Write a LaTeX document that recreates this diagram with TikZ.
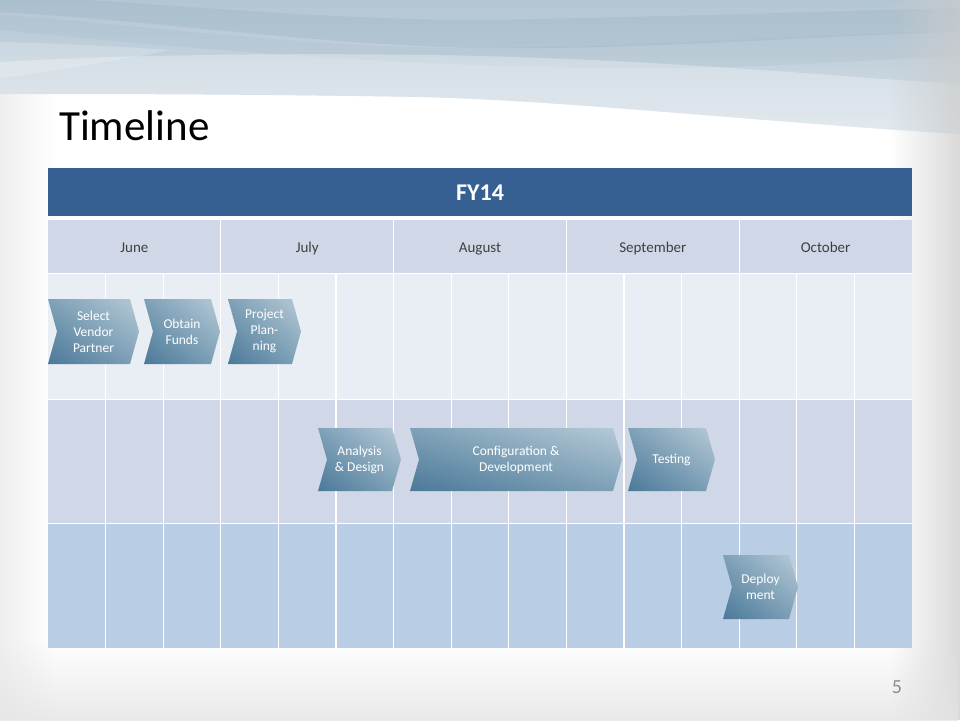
\documentclass[tikz,border=0pt]{standalone}
\usepackage{fontspec}
\setmainfont{Carlito}
\usetikzlibrary{fadings,shadings}
\definecolor{hdr}{HTML}{366092}
\definecolor{mrow}{HTML}{D0D8E8}
\definecolor{rowa}{HTML}{E9EDF4}
\definecolor{rowb}{HTML}{D0D8E8}
\definecolor{rowc}{HTML}{B9CDE5}
\definecolor{chdark}{HTML}{4A7999}
\definecolor{chmid}{HTML}{7FA1B7}
\definecolor{chlight}{HTML}{B6CAD7}
\definecolor{monthtxt}{HTML}{3F3F3F}
\definecolor{wavetop}{HTML}{B4C6D3}
\definecolor{wavebot}{HTML}{D6E0E8}
\definecolor{wavedark}{HTML}{9AB3C4}
\definecolor{pagenum}{HTML}{8C8C8C}
\newcommand\chevron[6]{%
  \shade[chevshade] (#2,#4) -- (#3-9,#4) -- (#3,{(#4+#5)/2}) -- (#3-9,#5) -- (#2,#5) -- (#2+9,{(#4+#5)/2}) -- cycle;
  \node[chevtext] (#1) at ({(#2+#3)/2},{(#4+#5)/2}) {#6};
}
\begin{document}
\begin{tikzpicture}[x=1pt,y=-1pt,
  chevshade/.style={lower left=chdark, upper right=chlight, upper left=chmid, lower right=chmid},
  chevtext/.style={text=white, font=\fontsize{13.5}{16}\selectfont, align=center, inner sep=0pt},
  month/.style={text=monthtxt, font=\fontsize{15}{18}\selectfont, anchor=base},
  gridline/.style={white, line width=1.3pt}]
\useasboundingbox (0,0) rectangle (960,720);
\fill[white] (0,0) rectangle (960,720);
% top wave
\begin{scope}
  \clip (0,0) -- (960,0) -- (960,134) .. controls (760,122) and (560,100) .. (420,97) .. controls (250,94) and (100,94) .. (0,94) -- cycle;
  \shade[top color=wavetop, bottom color=wavebot] (0,0) rectangle (960,134);
  \fill[wavedark, opacity=0.35] (0,12) .. controls (150,20) and (330,46) .. (480,48) .. controls (650,50) and (800,36) .. (960,32) -- (960,8) .. controls (800,12) and (620,18) .. (480,20) .. controls (320,20) and (150,2) .. (0,-5) -- cycle;
  \fill[wavedark, opacity=0.18] (0,30) .. controls (200,50) and (400,66) .. (600,68) .. controls (750,70) and (860,60) .. (960,56) -- (960,30) .. controls (800,36) and (650,46) .. (480,48) .. controls (300,48) and (150,25) .. (0,15) -- cycle;
  \fill[white, opacity=0.3] (0,62) .. controls (120,55) and (300,52) .. (480,56) .. controls (700,62) and (850,78) .. (960,84) -- (960,140) -- (0,140) -- cycle;
  \fill[white, opacity=0.2] (0,42) .. controls (80,44) and (140,48) .. (170,50) .. controls (120,60) and (60,70) .. (0,78) -- cycle;
\end{scope}
% vignette
\fill[black!20, path fading=west] (890,0) rectangle (985,720);
\fill[black!9, path fading=east] (-25,94) rectangle (55,720);
\fill[black!11, path fading=north] (0,640) rectangle (960,745);
% title
\node[anchor=base west, inner sep=0pt, font=\fontsize{43}{50}\selectfont] (title) at (59,140) {Timeline};
% table header
\fill[hdr] (48,168) rectangle (912,216);
\node[text=white, font=\fontsize{24}{28}\selectfont\bfseries] (fy) at (480,193) {FY14};
\fill[mrow] (48,220) rectangle (912,273);
\foreach \k in {1,...,4} \draw[gridline] ({48+172.8*\k},220) -- ({48+172.8*\k},273);
\node[month] (june) at (134.4,252) {June};
\node[month] (july) at (307.2,252) {July};
\node[month] (aug) at (480,252) {August};
\node[month] (sep) at (652.8,252) {September};
\node[month] (oct) at (825.6,252) {October};
% rows
\fill[rowa] (48,274) rectangle (912,399);
\fill[rowb] (48,400) rectangle (912,523);
\fill[rowc] (48,524) rectangle (912,648);
\draw[gridline] (48,273.5) -- (912,273.5);
\draw[gridline] (48,399.5) -- (912,399.5);
\draw[gridline] (48,523.5) -- (912,523.5);
\foreach \k in {1,...,14} \draw[gridline] ({48+57.6*\k},274) -- ({48+57.6*\k},648);
% chevrons
\chevron{sel}{48}{139}{299}{364}{Select\\Vendor\\Partner}
\chevron{obt}{144}{220}{299}{364}{Obtain\\Funds}
\chevron{proj}{228}{301}{299}{364}{Project\\Plan-\\ning}
\chevron{ana}{318}{401}{428}{491}{Analysis\\\& Design}
\chevron{conf}{410}{622}{428}{491}{Configuration \&\\Development}
\chevron{test}{628}{715}{428}{491}{Testing}
\chevron{dep}{723}{798}{555}{619}{Deploy\\ment}
% page number
\node[text=pagenum, font=\fontsize{20}{24}\selectfont] (pg) at (897,687) {5};
\end{tikzpicture}
\end{document}
